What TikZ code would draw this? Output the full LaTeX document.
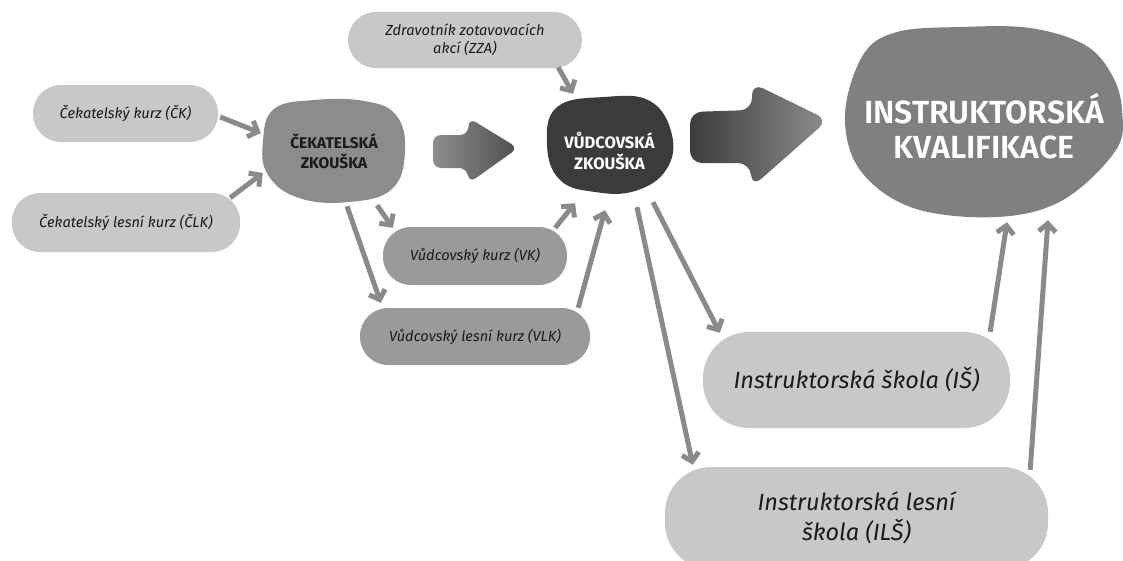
\documentclass[tikz,border=0pt]{standalone}
\usepackage{fontspec}
\setmainfont{Fira Sans}
\newfontfamily\semibold{Fira Sans SemiBold}
\usetikzlibrary{arrows.meta}
\definecolor{lightnode}{HTML}{C8C8C8}
\definecolor{midnode}{HTML}{9A9A9A}
\definecolor{cznode}{HTML}{8C8C8C}
\definecolor{vznode}{HTML}{3B3B3B}
\definecolor{iknode}{HTML}{808080}
\definecolor{conncol}{HTML}{8A8A8A}
\definecolor{textdark}{HTML}{1A1A1A}
\definecolor{bigAleft}{HTML}{8E8E8E}
\definecolor{bigAright}{HTML}{4E4E4E}
\definecolor{bigBleft}{HTML}{3C3C3C}
\definecolor{bigBright}{HTML}{8E8E8E}
\begin{document}
\begin{tikzpicture}[x=1pt,y=-1pt,
  coursebox/.style={fill=lightnode, rounded corners=28pt, inner sep=0pt, text=textdark,
    font=\itshape\fontsize{14.6}{18}\selectfont, align=center},
  midbox/.style={coursebox, fill=midnode},
  bigcourse/.style={coursebox, rounded corners=46pt, font=\itshape\fontsize{23.5}{30}\selectfont},
  exambox/.style={inner sep=0pt, align=center, font=\bfseries\fontsize{15.5}{20}\selectfont},
  conn/.style={draw=conncol, line width=5pt, -{Straight Barb[length=8pt,width=17pt]}},
]
\useasboundingbox (0,0) rectangle (1123,560);

% blobs
\fill[cznode] plot[smooth cycle, tension=0.7] coordinates {
  (274,109) (314,100) (364,101) (396,115) (405,151) (392,189) (349,202) (299,198) (268,175) (263,141)};
\fill[vznode] plot[smooth cycle, tension=0.7] coordinates {
  (557,107) (604,97) (650,101) (672,135) (666,170) (635,191) (595,192) (560,180) (547,145)};
\fill[iknode] plot[smooth cycle, tension=0.6] coordinates {
  (863,55) (897,32) (960,27) (1030,28) (1085,45) (1112,75) (1122,110) (1116,150) (1063,200) (997,217) (913,208) (860,170) (845,115)};

% big block arrows
\shade[left color=bigAleft, right color=bigAright, rounded corners=8pt]
  (433,135) -- (468,135) -- (469,118) -- (518,148) -- (469,183) -- (467,168) -- (433,168) -- cycle;
\shade[left color=bigBleft, right color=bigBright, rounded corners=12pt]
  (690,112) -- (752,110) -- (752,83) -- (828,120) -- (752,187) -- (750,163) -- (690,163) -- cycle;

% nodes
\node[coursebox, minimum width=234, minimum height=56] (zza) at (465,40) {Zdravotník zotavovacích\\akcí (ZZA)};
\node[coursebox, minimum width=185, minimum height=57] (ck) at (125.5,113.5) {Čekatelský kurz (ČK)};
\node[coursebox, minimum width=228, minimum height=59] (clk) at (126,222.5) {Čekatelský lesní kurz (ČLK)};
\node[midbox, minimum width=184, minimum height=58] (vk) at (475,256) {Vůdcovský kurz (VK)};
\node[midbox, minimum width=230, minimum height=57] (vlk) at (475,336.5) {Vůdcovský lesní kurz (VLK)};
\node[bigcourse, minimum width=307, minimum height=96] (is) at (856.5,380) {Instruktorská škola (IŠ)};
\node[bigcourse, minimum width=383, minimum height=102] (ils) at (856.5,518) {Instruktorská lesní\\škola (ILŠ)};
\node[exambox, text=textdark, minimum width=142, minimum height=102] (cz) at (334,151) {ČEKATELSKÁ\\ZKOUŠKA};
\node[exambox, text=white, font=\bfseries\fontsize{16.5}{21}\selectfont, minimum width=125, minimum height=95] (vz) at (609.5,151) {VŮDCOVSKÁ\\ZKOUŠKA};
\node[inner sep=0pt, align=center, text=white, font=\semibold\fontsize{32}{35}\selectfont,
  minimum width=275, minimum height=190] (ik) at (984,126) {INSTRUKTORSKÁ\\KVALIFIKACE};

% connectors
\draw[conn] ([xshift=2,yshift=-3.5]ck.east) -- ([xshift=-2,yshift=18]cz.west);
\draw[conn] ([xshift=-10,yshift=-5]clk.north east) -- ([yshift=-22]cz.west);
\draw[conn] ([xshift=-24,yshift=1]zza.south east) -- ([xshift=-36.5,yshift=9.5]vz.north);
\draw[conn] ([xshift=43,yshift=-3]cz.south) -- ([xshift=10,yshift=-1]vk.north west);
\draw[conn] ([xshift=13,yshift=-4]cz.south) -- ([xshift=21,yshift=5]vlk.north west);
\draw[conn] ([xshift=-12,yshift=-1]vk.north east) -- ([xshift=-34.5,yshift=-4.5]vz.south);
\draw[conn] ([xshift=-12]vlk.north east) -- ([xshift=-4.5,yshift=-11.5]vz.south);
\draw[conn] ([xshift=43.5,yshift=-3.5]vz.south) -- ([xshift=17,yshift=-1]is.north west);
\draw[conn] ([xshift=27.5,yshift=-8.5]vz.south) -- ([xshift=28,yshift=2]ils.north west);
\draw[conn] ([xshift=-20]is.north east) -- ([xshift=23,yshift=-1]ik.south);
\draw[conn] ([xshift=-18,yshift=-3]ils.north east) -- ([xshift=64,yshift=1]ik.south);
\end{tikzpicture}
\end{document}
